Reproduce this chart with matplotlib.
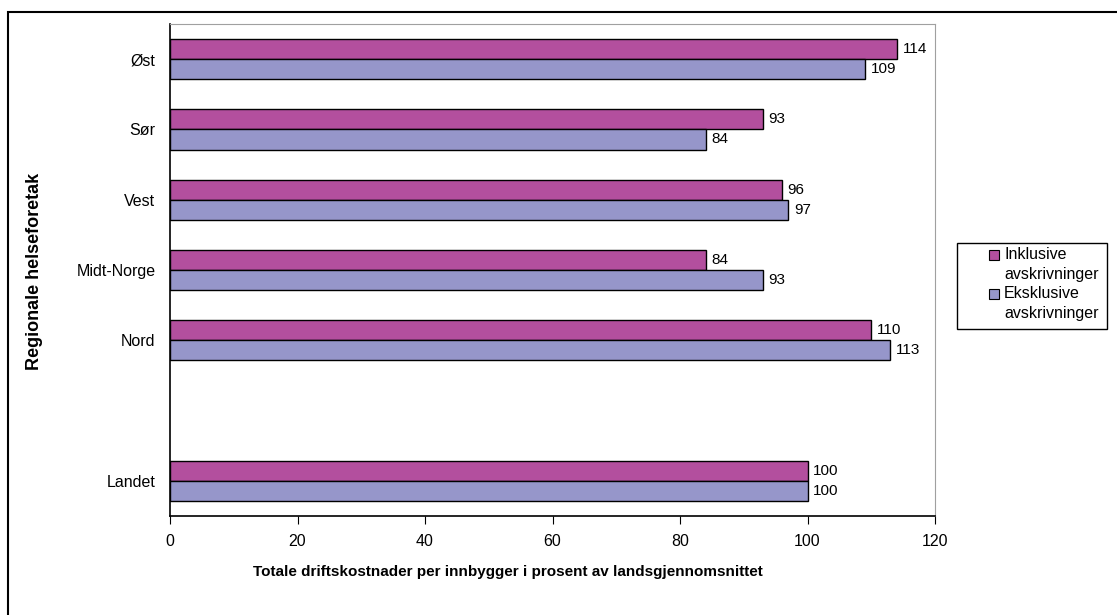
import matplotlib
matplotlib.use("Agg")
import matplotlib.pyplot as plt
from matplotlib.patches import Rectangle
import numpy as np

plt.rcParams['font.family'] = ['Liberation Sans', 'DejaVu Sans']

categories = ["Øst", "Sør", "Vest", "Midt-Norge", "Nord", "", "Landet"]
inklusive = [114, 93, 96, 84, 110, None, 100]
eksklusive = [109, 84, 97, 93, 113, None, 100]
series_names = ["Inklusive\navskrivninger", "Eksklusive\navskrivninger"]
colors = ["#B34F9E", "#9696CA"]
xticks = [0, 20, 40, 60, 80, 100, 120]

W, H = 1117, 615
fig = plt.figure(figsize=(W / 100, H / 100), dpi=100)


def fx(px):
    return px / W


def fy(py):
    return 1 - py / H


ax = fig.add_axes([fx(170), fy(516), (935 - 170) / W, (516 - 24) / H])

n = len(categories)
pos = np.arange(n)
bh = 20 / 70
for i in range(n):
    for j, (vals, off) in enumerate([(inklusive, -bh / 2), (eksklusive, bh / 2)]):
        v = vals[i]
        if v is None:
            continue
        ax.barh(pos[i] + off, v, height=bh, color=colors[j], edgecolor="black", linewidth=1)
        ax.text(v + 0.9, pos[i] + off, str(v), va="center", ha="left", fontsize=11)

ax.set_ylim(n - 0.5, -0.5)
ax.set_xlim(0, 120)
ax.set_xticks(xticks)
ax.set_xticklabels([str(t) for t in xticks], fontsize=11.5)
ax.set_yticks(pos)
ax.set_yticklabels(categories, fontsize=11.5)
ax.tick_params(axis="y", length=0, pad=10.5)
ax.tick_params(axis="x", length=6, direction="out", pad=7, color="black")
for s in ["top", "right"]:
    ax.spines[s].set_color("#A0A0A0")
for s in ["left", "bottom"]:
    ax.spines[s].set_color("black")
    ax.spines[s].set_linewidth(1.2)

fig.text(fx(253), fy(572), "Totale driftskostnader per innbygger i prosent av landsgjennomsnittet",
         fontsize=11, fontweight="bold", ha="left", va="center")
fig.text(fx(35), fy(271), "Regionale helseforetak", rotation=90, fontsize=13,
         fontweight="bold", ha="center", va="center")

# legend (manual, Excel style)
fig.patches.append(Rectangle((fx(957), fy(329)), (1107 - 957) / W, (329 - 243) / H,
                             transform=fig.transFigure, facecolor="white",
                             edgecolor="black", linewidth=1))
line_h = 19.5
y0 = 255
for k, (name, c) in enumerate(zip(series_names, colors)):
    yc = y0 + k * 2 * line_h
    fig.patches.append(Rectangle((fx(989), fy(yc + 5)), 10 / W, 10 / H,
                                 transform=fig.transFigure, facecolor=c,
                                 edgecolor="black", linewidth=0.8))
    for m, part in enumerate(name.split("\n")):
        fig.text(fx(1004), fy(yc + m * line_h), part, fontsize=11.5,
                 ha="left", va="center")

fig.patches.append(Rectangle((fx(8), -0.1), 2, 1.1 - 12 / H, transform=fig.transFigure,
                             fill=False, edgecolor="black", linewidth=1.5))

fig.savefig("out.png", dpi=100)
